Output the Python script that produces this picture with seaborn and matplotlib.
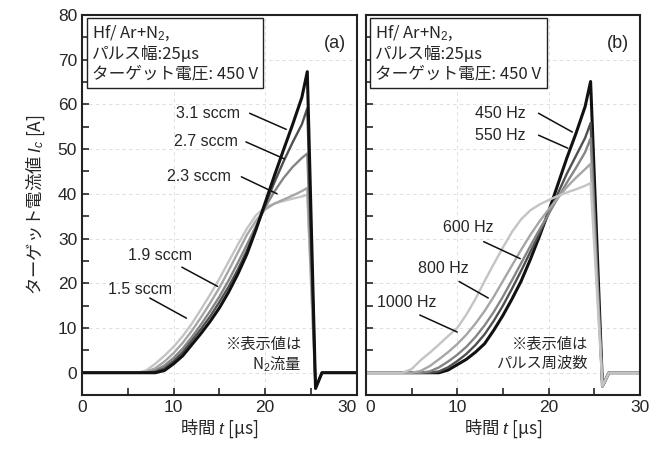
import matplotlib
matplotlib.use("Agg")
import matplotlib.pyplot as plt
import numpy as np
import pandas as pd
import seaborn as sns

# time axis [us]
time_a = [0, 4, 5, 6, 7, 8, 9, 10, 11, 12, 13, 14, 15, 16, 17, 18, 19, 20,
          21, 22, 23, 24, 24.6, 25.5, 26.2, 30]
time_b = [0, 4, 5, 6, 7, 8, 9, 10, 11, 12, 13, 14, 15, 16, 17, 18, 19, 20,
          21, 22, 23, 24, 24.6, 25.9, 26.6, 30]

# (a) N2 flow series
flow_labels = ["1.5 sccm", "1.9 sccm", "2.3 sccm", "2.7 sccm", "3.1 sccm"]
flow_15 = [0, 0, 0, 0, 0.5, 2.0, 3.8, 5.8, 8.2, 11.0, 14.2, 17.5, 21.0, 24.8,
           28.6, 32.2, 35.2, 37.0, 37.8, 38.4, 38.9, 39.4, 39.8, -3.5, 0, 0]
flow_19 = [0, 0, 0, 0, 0.2, 1.0, 2.5, 4.4, 6.7, 9.4, 12.4, 15.6, 19.0, 22.8,
           26.8, 30.8, 34.0, 36.5, 37.8, 38.7, 39.6, 40.6, 41.3, -3.5, 0, 0]
flow_23 = [0, 0, 0, 0, 0, 0.5, 1.6, 3.3, 5.4, 8.0, 10.8, 13.8, 17.0, 20.6,
           24.5, 28.6, 32.8, 37.0, 40.5, 43.5, 46.0, 48.0, 49.0, -3.5, 0, 0]
flow_27 = [0, 0, 0, 0, 0, 0.2, 1.0, 2.6, 4.6, 7.2, 9.8, 12.6, 15.8, 19.2,
           23.0, 27.3, 32.2, 37.5, 42.5, 47.2, 51.5, 55.5, 59.1, -3.5, 0, 0]
flow_31 = [0, 0, 0, 0, 0, 0, 0.5, 2.0, 3.8, 6.3, 8.8, 11.5, 14.5, 18.0,
           22.0, 26.5, 32.0, 38.0, 44.0, 49.8, 55.5, 61.5, 67.3, -3.5, 0, 0]

# (b) pulse frequency series
freq_labels = ["450 Hz", "550 Hz", "600 Hz", "800 Hz", "1000 Hz"]
freq_450 = [0, 0, 0, 0, 0, 0, 0.6, 1.8, 3.0, 4.6, 6.5, 9.5, 12.8, 16.5,
            20.5, 25.3, 30.5, 36.0, 42.0, 48.0, 53.5, 59.5, 65.1, -3.0, 0, 0]
freq_550 = [0, 0, 0, 0, 0, 0.3, 1.2, 2.6, 4.2, 6.2, 8.6, 11.6, 15.0, 18.8,
            22.8, 27.0, 31.2, 35.5, 40.0, 44.5, 48.5, 52.5, 55.8, -3.0, 0, 0]
freq_600 = [0, 0, 0, 0, 0.3, 1.2, 2.5, 4.0, 5.8, 8.0, 10.6, 13.6, 17.0, 20.7,
            24.5, 28.3, 32.0, 35.5, 39.0, 42.5, 45.8, 49.3, 52.4, -3.0, 0, 0]
freq_800 = [0, 0, 0, 0.4, 1.5, 3.0, 4.6, 6.4, 8.5, 11.0, 13.8, 17.0, 20.5,
            24.0, 27.5, 30.8, 33.8, 36.5, 39.0, 41.5, 43.6, 45.5, 46.7, -3.0, 0, 0]
freq_1000 = [0, 0, 0.8, 2.8, 4.5, 6.3, 8.2, 10.0, 13.0, 16.5, 20.5, 24.3, 28.0,
             31.5, 34.3, 36.3, 37.6, 38.6, 39.5, 40.3, 41.0, 41.8, 42.4, -3.0, 0, 0]

greys = ["#c4c4c4", "#a6a6a6", "#858585", "#505050", "#111111"]

JP = ["Noto Sans CJK JP"]


def long_frame(time, labels, series):
    rows = []
    for lab, vals in zip(labels, series):
        rows.append(pd.DataFrame({"t": time, "I": vals, "label": lab}))
    return pd.concat(rows, ignore_index=True)


df_a = long_frame(time_a, flow_labels, [flow_15, flow_19, flow_23, flow_27, flow_31])
df_b = long_frame(time_b, freq_labels, [freq_450, freq_550, freq_600, freq_800, freq_1000])

sns.set_style("ticks")
plt.rcParams["font.family"] = ["Liberation Sans", "Noto Sans CJK JP", "DejaVu Sans"]
plt.rcParams["mathtext.fontset"] = "custom"
plt.rcParams["mathtext.rm"] = "Liberation Sans"
plt.rcParams["mathtext.it"] = "Liberation Sans:italic"

fig = plt.figure(figsize=(6.51, 4.5), dpi=100)
ax_a = fig.add_axes([0.126, 0.122, 0.422, 0.845])
ax_b = fig.add_axes([0.562, 0.122, 0.421, 0.845], sharey=ax_a)

# left: light first, dark on top
sns.lineplot(data=df_a, x="t", y="I", hue="label", hue_order=flow_labels,
             palette=dict(zip(flow_labels, greys)), ax=ax_a, legend=False,
             linewidth=1.7, sort=False)
# right: dark first, light on top
sns.lineplot(data=df_b, x="t", y="I", hue="label", hue_order=freq_labels,
             palette=dict(zip(freq_labels, greys[::-1])), ax=ax_b, legend=False,
             linewidth=1.7, sort=False)

# thicker black curves
ax_a.get_lines()[-1].set_linewidth(2.2)
ax_b.get_lines()[0].set_linewidth(2.2)

for ax in (ax_a, ax_b):
    ax.set_xlim(0, 30)
    ax.set_ylim(-5, 80)
    ax.set_xticks([0, 10, 20, 30])
    ax.set_xticks([5, 15, 25], minor=True)
    ax.set_yticks(np.arange(0, 81, 10))
    ax.set_yticks(np.arange(5, 80, 10), minor=True)
    ax.tick_params(which="both", direction="in", length=5, width=1.2,
                   top=False, right=False, labelsize=12.5)
    ax.grid(True, which="major", color="#d9d9d9", linestyle=(0, (4, 4)), linewidth=0.6)
    for sp in ax.spines.values():
        sp.set_linewidth(1.5)
        sp.set_color("#222222")
    ax.set_xlabel("時間 $t$ [μs]", fontsize=12.5, labelpad=2, family=JP)
    ax.set_ylabel("")
    ax.text(0.035, 0.975, "Hf/ Ar+N$_2$,\nパルス幅:25μs\nターゲット電圧: 450 V",
            transform=ax.transAxes, ha="left", va="top", fontsize=12,
            linespacing=1.2, family=JP,
            bbox=dict(boxstyle="square,pad=0.3", fc="white", ec="#222222", lw=1.0))

ax_b.tick_params(labelleft=False)
ax_a.set_ylabel("ターゲット電流値 $I_c$ [A]", fontsize=12.5, labelpad=8, family=JP)

# shift edge tick labels so the two panels' "30" and "0" do not collide
ax_a.get_xticklabels()[-1].set_horizontalalignment("right")
ax_b.get_xticklabels()[0].set_horizontalalignment("left")
ax_b.get_xticklabels()[-1].set_horizontalalignment("center")

ax_a.text(0.96, 0.925, "(a)", transform=ax_a.transAxes, ha="right", va="center", fontsize=13)
ax_b.text(0.96, 0.925, "(b)", transform=ax_b.transAxes, ha="right", va="center", fontsize=13)

# curve labels with leader lines: (text, text x, text y, line start, line end)
labels_a = [("3.1 sccm", 17.2, 58.0, (18.3, 58.0), (22.3, 54.4)),
            ("2.7 sccm", 17.0, 51.6, (17.9, 51.6), (22.1, 47.8)),
            ("2.3 sccm", 16.3, 43.8, (17.4, 43.8), (21.3, 40.0)),
            ("1.9 sccm", 12.0, 26.2, (10.9, 23.6), (14.8, 19.3)),
            ("1.5 sccm", 9.8, 18.7, (7.4, 16.7), (11.4, 12.2))]
labels_b = [("450 Hz", 17.5, 58.0, (18.9, 58.0), (22.6, 53.8)),
            ("550 Hz", 17.5, 53.1, (18.9, 53.1), (22.1, 50.2)),
            ("600 Hz", 14.0, 32.4, (12.9, 29.3), (16.9, 25.5)),
            ("800 Hz", 11.3, 23.3, (10.2, 20.4), (13.4, 16.7)),
            ("1000 Hz", 7.7, 15.6, (5.9, 12.9), (10.0, 9.1))]
for ax, labs in ((ax_a, labels_a), (ax_b, labels_b)):
    for txt, tx, ty, p0, p1 in labs:
        ax.text(tx, ty, txt, ha="right", va="center", fontsize=11.5)
        ax.plot([p0[0], p1[0]], [p0[1], p1[1]], color="#111111", lw=1.1)

ax_a.text(24.0, 4.0, "※表示値は\nN$_2$流量", ha="right", va="center", fontsize=11,
          linespacing=1.15, family=JP)
ax_b.text(24.3, 4.2, "※表示値は\nパルス周波数", ha="right", va="center", fontsize=11,
          linespacing=1.15, family=JP)

fig.savefig("out.png", dpi=100)
